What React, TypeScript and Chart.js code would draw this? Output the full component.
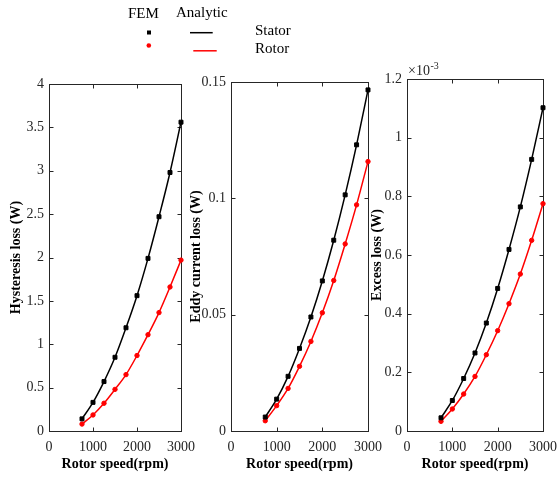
import React, { useEffect, useRef } from "react";
import { Chart, registerables } from "chart.js";

Chart.register(...registerables);

// ---- data ----
const speeds = [750, 1000, 1250, 1500, 1750, 2000, 2250, 2500, 2750, 3000];

const hystStator = [0.14, 0.33, 0.57, 0.85, 1.19, 1.56, 1.99, 2.47, 2.98, 3.56];
const hystRotor = [0.08, 0.185, 0.32, 0.48, 0.65, 0.87, 1.11, 1.365, 1.66, 1.97];

const eddyStator = [0.006, 0.0137, 0.0235, 0.0355, 0.049, 0.0645, 0.082, 0.1015, 0.123, 0.1466];
const eddyRotor = [0.0044, 0.0109, 0.0183, 0.0278, 0.0385, 0.0508, 0.0647, 0.0804, 0.0972, 0.1158];

// values in units of 1e-3 W
const excessStator = [0.045, 0.104, 0.179, 0.266, 0.368, 0.486, 0.619, 0.764, 0.926, 1.102];
const excessRotor = [0.033, 0.075, 0.126, 0.186, 0.26, 0.342, 0.434, 0.535, 0.65, 0.775];

const xTicks = [0, 1000, 2000, 3000];
const xLabel = "Rotor speed(rpm)";
const legendHeaders = ["FEM", "Analytic"];
const legendSeries = ["Stator", "Rotor"];
const exponentLabel = ["×10", "-3"];

const W = 557;
const H = 477;
const FONT = "'Liberation Serif', 'Times New Roman', serif";
const AX = "#262626";

type Panel = {
  stator: number[];
  rotor: number[];
  yMax: number;
  yStep: number;
  yTitle: string;
  padLeft: number;
  yWidth: number;
  top: number;
  right: number;
  exponent?: boolean;
  legend?: boolean;
};

const panels: Panel[] = [
  { stator: hystStator, rotor: hystRotor, yMax: 4, yStep: 0.5, yTitle: "Hysteresis loss (W)", padLeft: 8, yWidth: 41, top: 84, right: 181, legend: true },
  { stator: eddyStator, rotor: eddyRotor, yMax: 0.15, yStep: 0.05, yTitle: "Eddy current loss (W)", padLeft: 188, yWidth: 43, top: 82, right: 368 },
  { stator: excessStator, rotor: excessRotor, yMax: 1.2, yStep: 0.2, yTitle: "Excess loss (W)", padLeft: 369, yWidth: 38, top: 79, right: 543, exponent: true },
];

const boxPlugin = {
  id: "matlabBox",
  beforeDatasetsDraw(chart: any) {
    const { ctx, chartArea } = chart;
    const { left, right, top, bottom } = chartArea;
    const L = Math.round(left) + 0.5;
    const R = Math.round(right) + 0.5;
    const T = Math.round(top) + 0.5;
    const B = Math.round(bottom) + 0.5;
    ctx.save();
    ctx.strokeStyle = AX;
    ctx.lineWidth = 1;
    ctx.strokeRect(L, T, R - L, B - T);
    const tl = 4;
    ctx.beginPath();
    for (const t of chart.scales.x.ticks) {
      const px = Math.round(chart.scales.x.getPixelForValue(t.value)) + 0.5;
      ctx.moveTo(px, B);
      ctx.lineTo(px, B - tl);
      ctx.moveTo(px, T);
      ctx.lineTo(px, T + tl);
    }
    for (const t of chart.scales.y.ticks) {
      const py = Math.round(chart.scales.y.getPixelForValue(t.value)) + 0.5;
      ctx.moveTo(L, py);
      ctx.lineTo(L + tl, py);
      ctx.moveTo(R, py);
      ctx.lineTo(R - tl, py);
    }
    ctx.stroke();
    ctx.restore();
  },
};

const extrasPlugin = {
  id: "extras",
  afterDraw(chart: any) {
    const opts = chart.options.plugins.extras || {};
    const ctx = chart.ctx;
    ctx.save();
    ctx.textBaseline = "alphabetic";
    ctx.textAlign = "left";
    if (opts.legend) {
      ctx.fillStyle = "#000";
      ctx.font = `15px ${FONT}`;
      ctx.fillText(legendHeaders[0], 128, 18.3);
      ctx.fillText(legendHeaders[1], 176, 17);
      ctx.fillText(legendSeries[0], 255, 34.7);
      ctx.fillText(legendSeries[1], 255, 53.3);
      // FEM markers
      ctx.fillStyle = "#000";
      ctx.fillRect(147, 30.5, 4, 4);
      ctx.fillStyle = "#ff0000";
      ctx.beginPath();
      ctx.arc(148.8, 45.5, 2.3, 0, Math.PI * 2);
      ctx.fill();
      // analytic lines
      ctx.lineWidth = 1.5;
      ctx.strokeStyle = "#000";
      ctx.beginPath();
      ctx.moveTo(190, 32.7);
      ctx.lineTo(212.7, 32.7);
      ctx.stroke();
      ctx.strokeStyle = "#ff0000";
      ctx.beginPath();
      ctx.moveTo(193.3, 50.8);
      ctx.lineTo(216.7, 50.8);
      ctx.stroke();
    }
    if (opts.exponent) {
      ctx.fillStyle = AX;
      ctx.font = `14px ${FONT}`;
      ctx.fillText(exponentLabel[0], 408, 74.5);
      const w = ctx.measureText(exponentLabel[0]).width;
      ctx.font = `10px ${FONT}`;
      ctx.fillText(exponentLabel[1], 408 + w + 0.5, 69);
    }
    ctx.restore();
  },
};

const fmt = (v: any) => String(+Number(v).toFixed(4));

function PanelChart({ p }: { p: Panel }) {
  const ref = useRef<HTMLCanvasElement | null>(null);
  useEffect(() => {
    if (!ref.current) return;
    const toPts = (arr: number[]) => speeds.map((x, i) => ({ x, y: arr[i] }));
    const chart = new Chart(ref.current, {
      type: "scatter",
      data: {
        datasets: [
          {
            label: "Stator analytic",
            data: toPts(p.stator),
            showLine: true,
            borderColor: "#000",
            borderWidth: 1.5,
            pointRadius: 0,
            cubicInterpolationMode: "monotone",
            clip: false,
          } as any,
          {
            label: "Stator FEM",
            data: toPts(p.stator),
            showLine: false,
            pointStyle: "rect",
            pointRadius: 2.8,
            borderWidth: 1,
            backgroundColor: "#000",
            borderColor: "#000",
            clip: false,
          } as any,
          {
            label: "Rotor analytic",
            data: toPts(p.rotor),
            showLine: true,
            borderColor: "#ff0000",
            borderWidth: 1.5,
            pointRadius: 0,
            cubicInterpolationMode: "monotone",
            clip: false,
          } as any,
          {
            label: "Rotor FEM",
            data: toPts(p.rotor),
            showLine: false,
            pointStyle: "circle",
            pointRadius: 2.2,
            borderWidth: 1,
            backgroundColor: "#ff0000",
            borderColor: "#ff0000",
            clip: false,
          } as any,
        ],
      },
      options: {
        animation: false,
        responsive: false,
        devicePixelRatio: 1,
        layout: {
          padding: { left: p.padLeft, top: p.top, right: W - p.right, bottom: 0 },
        },
        plugins: {
          legend: { display: false },
          tooltip: { enabled: false },
          extras: { legend: !!p.legend, exponent: !!p.exponent },
        } as any,
        scales: {
          x: {
            type: "linear",
            min: 0,
            max: 3000,
            afterBuildTicks: (s: any) => {
              s.ticks = xTicks.map((v) => ({ value: v }));
            },
            afterFit: (s: any) => {
              s.height = 46;
              s.paddingLeft = 0;
              s.paddingRight = 0;
            },
            grid: { display: false, drawTicks: false },
            border: { display: false },
            ticks: {
              autoSkip: false,
              maxRotation: 0,
              padding: 8,
              color: AX,
              font: { family: FONT, size: 14 },
              callback: fmt,
            },
            title: {
              display: true,
              text: xLabel,
              color: "#000",
              font: { family: FONT, size: 14, weight: "bold" },
              padding: { top: 0, bottom: 4 },
            },
          },
          y: {
            type: "linear",
            min: 0,
            max: p.yMax,
            afterFit: (s: any) => {
              s.width = p.yWidth;
              s.paddingTop = 0;
              s.paddingBottom = 0;
            },
            grid: { display: false, drawTicks: false },
            border: { display: false },
            ticks: {
              stepSize: p.yStep,
              autoSkip: false,
              padding: 5,
              color: AX,
              font: { family: FONT, size: 14 },
              callback: fmt,
            },
            title: {
              display: true,
              text: p.yTitle,
              color: "#000",
              font: { family: FONT, size: 14, weight: "bold" },
              padding: 0,
            },
          },
        },
      } as any,
      plugins: [boxPlugin, extrasPlugin],
    });
    return () => chart.destroy();
  }, [p]);
  return (
    <canvas
      ref={ref}
      width={W}
      height={H}
      style={{ position: "absolute", left: 0, top: 0, width: W, height: H }}
    />
  );
}

export default function App() {
  return (
    <div style={{ position: "absolute", left: 0, top: 0, width: W, height: H, background: "#fff" }}>
      {panels.map((p, i) => (
        <PanelChart key={i} p={p} />
      ))}
    </div>
  );
}
